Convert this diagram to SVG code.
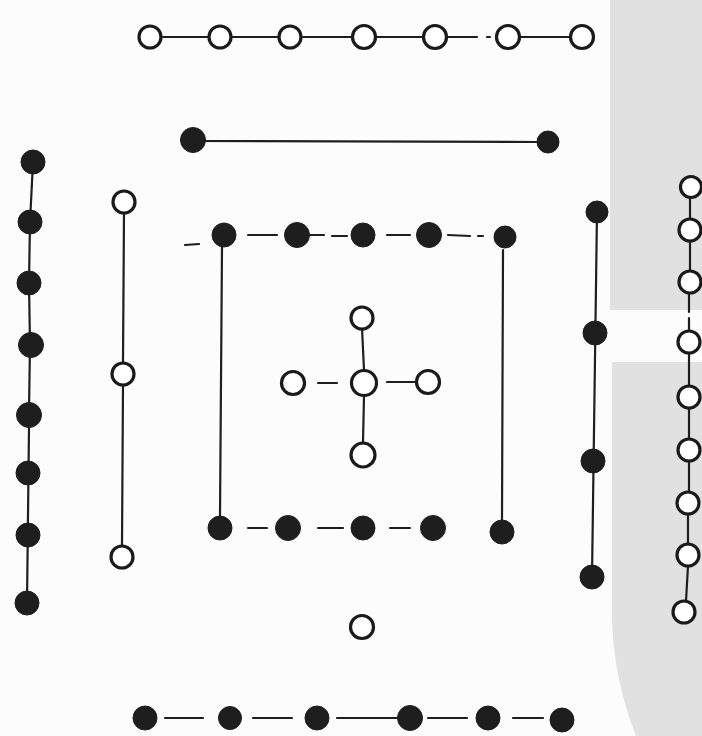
<svg xmlns="http://www.w3.org/2000/svg" width="702" height="736" viewBox="0 0 702 736">
<style>
.w{fill:#fff;stroke:#1a1a1a;stroke-width:3.2}
.b{fill:#1e1e1e;stroke:#1e1e1e;stroke-width:1}
.l{stroke:#1e1e1e;stroke-width:2.2;fill:none;stroke-linecap:round}
</style>
<rect x="0" y="0" width="702" height="736" fill="#fcfcfc"/>
<g id="background">
<rect x="610" y="0" width="92" height="310" fill="#e1e1e1"/>
<path d="M612,362 L702,362 L702,736 L636,736 Q614,680 612,620 Z" fill="#e1e1e1"/>
</g>
<g id="connectors">
<line class="l" x1="163" y1="37" x2="208" y2="37"/>
<line class="l" x1="232" y1="37" x2="278" y2="37"/>
<line class="l" x1="303" y1="37" x2="352" y2="37"/>
<line class="l" x1="377" y1="37" x2="422" y2="37"/>
<line class="l" x1="448" y1="37" x2="477" y2="37"/>
<line class="l" x1="487" y1="37" x2="490" y2="37"/>
<line class="l" x1="520" y1="37" x2="570" y2="37"/>
<line class="l" x1="193" y1="141" x2="538" y2="142"/>
<polyline class="l" points="33,162 30,222 29,283 30,345 29,410"/>
<line class="l" x1="29" y1="428" x2="27" y2="603"/>
<line class="l" x1="124" y1="213" x2="123" y2="362"/>
<line class="l" x1="123" y1="385" x2="122" y2="545"/>
<line class="l" x1="185" y1="245" x2="199" y2="244"/>
<line class="l" x1="248" y1="235" x2="277" y2="235"/>
<line class="l" x1="310" y1="235" x2="324" y2="235"/>
<line class="l" x1="332" y1="236" x2="347" y2="236"/>
<line class="l" x1="387" y1="235" x2="410" y2="235"/>
<line class="l" x1="448" y1="235" x2="470" y2="236"/>
<line class="l" x1="478" y1="236" x2="483" y2="236"/>
<line class="l" x1="248" y1="528" x2="267" y2="528"/>
<line class="l" x1="318" y1="528" x2="343" y2="528"/>
<line class="l" x1="390" y1="528" x2="410" y2="528"/>
<line class="l" x1="222" y1="247" x2="220" y2="517"/>
<line class="l" x1="503" y1="250" x2="502" y2="520"/>
<line class="l" x1="362" y1="328" x2="364" y2="370"/>
<line class="l" x1="364" y1="396" x2="363" y2="442"/>
<line class="l" x1="318" y1="383" x2="337" y2="383"/>
<line class="l" x1="387" y1="382" x2="415" y2="382"/>
<line class="l" x1="597" y1="212" x2="592" y2="577"/>
<line class="l" x1="690" y1="198" x2="690" y2="219"/>
<line class="l" x1="690" y1="241" x2="690" y2="271"/>
<line class="l" x1="689" y1="293" x2="689" y2="312"/>
<line class="l" x1="689" y1="318" x2="689" y2="331"/>
<line class="l" x1="689" y1="353" x2="689" y2="386"/>
<line class="l" x1="689" y1="408" x2="689" y2="439"/>
<line class="l" x1="689" y1="461" x2="689" y2="492"/>
<line class="l" x1="688" y1="514" x2="688" y2="544"/>
<line class="l" x1="688" y1="566" x2="686" y2="601"/>
<line class="l" x1="165" y1="718" x2="203" y2="718"/>
<line class="l" x1="253" y1="718" x2="292" y2="718"/>
<line class="l" x1="337" y1="718" x2="400" y2="718"/>
<line class="l" x1="428" y1="718" x2="467" y2="718"/>
<line class="l" x1="513" y1="718" x2="543" y2="718"/>
</g>
<g id="top-row">
<circle class="w" cx="150" cy="37" r="11"/>
<circle class="w" cx="220" cy="37" r="11"/>
<circle class="w" cx="290" cy="37" r="11"/>
<circle class="w" cx="364" cy="37" r="11.5"/>
<circle class="w" cx="435" cy="37" r="11.5"/>
<circle class="w" cx="508" cy="37" r="11.5"/>
<circle class="w" cx="582" cy="37" r="11.5"/>
</g>
<g id="earth-pair">
<circle class="b" cx="193" cy="140" r="12.5"/>
<circle class="b" cx="548" cy="142" r="11"/>
</g>
<g id="left-black-column">
<circle class="b" cx="33" cy="162" r="12"/>
<circle class="b" cx="30" cy="222" r="12"/>
<circle class="b" cx="29" cy="283" r="12"/>
<circle class="b" cx="31" cy="345" r="12.5"/>
<circle class="b" cx="29" cy="415" r="12.5"/>
<circle class="b" cx="28" cy="473" r="12"/>
<circle class="b" cx="28" cy="535" r="12"/>
<circle class="b" cx="27" cy="603" r="12"/>
</g>
<g id="left-white-column">
<circle class="w" cx="124" cy="202" r="11"/>
<circle class="w" cx="123" cy="374" r="11"/>
<circle class="w" cx="122" cy="557" r="11"/>
</g>
<g id="square-top">
<circle class="b" cx="224" cy="235" r="12"/>
<circle class="b" cx="297" cy="235" r="12.5"/>
<circle class="b" cx="363" cy="235" r="12"/>
<circle class="b" cx="429" cy="235" r="12.5"/>
<circle class="b" cx="505" cy="237" r="11"/>
</g>
<g id="square-bottom">
<circle class="b" cx="220" cy="528" r="12"/>
<circle class="b" cx="288" cy="528" r="12.5"/>
<circle class="b" cx="363" cy="528" r="12"/>
<circle class="b" cx="433" cy="528" r="12.5"/>
<circle class="b" cx="502" cy="532" r="12"/>
</g>
<g id="centre-cross">
<circle class="w" cx="362" cy="318" r="11"/>
<circle class="w" cx="364" cy="383" r="12.5"/>
<circle class="w" cx="293" cy="383" r="11.5"/>
<circle class="w" cx="428" cy="382" r="11.5"/>
<circle class="w" cx="363" cy="455" r="12"/>
</g>
<g id="right-black-column">
<circle class="b" cx="597" cy="212" r="11"/>
<circle class="b" cx="595" cy="333" r="12"/>
<circle class="b" cx="593" cy="461" r="12"/>
<circle class="b" cx="592" cy="577" r="12"/>
</g>
<g id="right-white-column">
<circle class="w" cx="691" cy="187" r="10.5"/>
<circle class="w" cx="690" cy="230" r="11"/>
<circle class="w" cx="690" cy="282" r="11"/>
<circle class="w" cx="689" cy="342" r="11"/>
<circle class="w" cx="689" cy="397" r="11"/>
<circle class="w" cx="689" cy="450" r="11"/>
<circle class="w" cx="688" cy="503" r="11"/>
<circle class="w" cx="688" cy="555" r="11"/>
<circle class="w" cx="684" cy="612" r="11"/>
</g>
<g id="bottom-white">
<circle class="w" cx="362" cy="627" r="11.5"/>
</g>
<g id="bottom-row">
<circle class="b" cx="145" cy="718" r="12"/>
<circle class="b" cx="230" cy="718" r="11.5"/>
<circle class="b" cx="317" cy="718" r="12"/>
<circle class="b" cx="410" cy="718" r="12.5"/>
<circle class="b" cx="488" cy="718" r="12"/>
<circle class="b" cx="562" cy="720" r="12"/>
</g>
</svg>
